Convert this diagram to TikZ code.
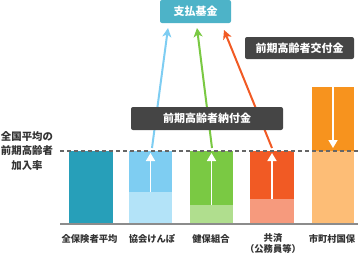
\documentclass[tikz,border=0pt]{standalone}
\usepackage{fontspec}
\newfontfamily\jp{Noto Sans CJK JP}
\usetikzlibrary{arrows.meta}
\definecolor{fundteal}{HTML}{4DB3C8}
\definecolor{darkbox}{HTML}{454545}
\definecolor{avgteal}{HTML}{279FB9}
\definecolor{blueU}{HTML}{7ECDF2}
\definecolor{blueL}{HTML}{B3E3F8}
\definecolor{greenU}{HTML}{7AC943}
\definecolor{greenL}{HTML}{B0DE8E}
\definecolor{redU}{HTML}{F15A24}
\definecolor{redL}{HTML}{F69A7D}
\definecolor{orangeU}{HTML}{F7931E}
\definecolor{orangeL}{HTML}{FDBD76}
\definecolor{txt}{HTML}{333333}
\begin{document}
\begin{tikzpicture}[x=1pt,y=-1pt,
  lbl/.style={font=\jp\bfseries\fontsize{11}{13}\selectfont, text=white, rounded corners=2pt, inner sep=0pt},
  barbox/.style={anchor=north west, inner sep=0pt, outer sep=0pt, draw=none},
  whitearrow/.style={draw=white, line width=1.6pt, -{Triangle[length=8pt,width=9pt]}},
  colarrow/.style={line width=2pt, -{Stealth[length=9pt,width=9pt,inset=2.5pt]}},
  barlabel/.style={font=\jp\bfseries\fontsize{9.3}{11.5}\selectfont, text=txt, align=center, inner sep=0pt}
]
\useasboundingbox (0,0) rectangle (361,258);

% bars
\node[barbox, fill=avgteal, minimum width=44pt, minimum height=72pt] (b1) at (69,151) {};
\node[barbox, fill=blueU, minimum width=43pt, minimum height=41pt] (b2u) at (129,151) {};
\node[barbox, fill=blueL, minimum width=43pt, minimum height=31pt] (b2l) at (129,192) {};
\node[barbox, fill=greenU, minimum width=43pt, minimum height=54pt] (b3u) at (190,151) {};
\node[barbox, fill=greenL, minimum width=43pt, minimum height=18pt] (b3l) at (190,205) {};
\node[barbox, fill=redU, minimum width=44pt, minimum height=48pt] (b4u) at (250,151) {};
\node[barbox, fill=redL, minimum width=44pt, minimum height=24pt] (b4l) at (250,199) {};
\node[barbox, fill=orangeU, minimum width=42pt, minimum height=64pt] (b5u) at (312,87) {};
\node[barbox, fill=orangeL, minimum width=42pt, minimum height=72pt] (b5l) at (312,151) {};

% white arrows in bars
\draw[whitearrow] (b2u.south) -- ([yshift=-2pt]b2u.north);
\draw[whitearrow] (b3u.south) -- ([yshift=-2pt]b3u.north);
\draw[whitearrow] (b4u.south) -- ([yshift=-2pt]b4u.north);
\draw[whitearrow] (b5u.north) -- ([yshift=3pt]b5u.south);

% dashed average line and baseline
\coordinate (dl) at (60,151);
\coordinate (dr) at (361,151);
\draw[draw=black!60, line width=1.2pt, dash pattern=on 4pt off 3pt] (dl) -- (dr);
\coordinate (bl) at (60,223.8);
\coordinate (br) at (358,223.8);
\draw[draw=black!45, line width=1.5pt] (bl) -- (br);

% top box
\node[lbl, fill=fundteal, minimum width=71pt, minimum height=23pt] (fund) at (195.5,11.5) {支払基金};

% coloured arrows
\coordinate (s2) at (152,148);
\coordinate (e2) at (168,28);
\coordinate (s3) at (212,148);
\coordinate (e3) at (197,28);
\coordinate (s4) at (272,148);
\coordinate (e4) at (224,30);
\draw[colarrow, draw=blueU] (s2) -- (e2);
\draw[colarrow, draw=greenU] (s3) -- (e3);
\draw[colarrow, draw=redU] (s4) -- (e4);

% dark boxes
\node[lbl, fill=darkbox, minimum width=109pt, minimum height=22pt] (koufu) at (299.5,48) {前期高齢者交付金};
\node[lbl, fill=darkbox, minimum width=152pt, minimum height=23pt] (noufu) at (207,118.5) {前期高齢者納付金};

% left label
\node[font=\jp\bfseries\fontsize{10.4}{14.5}\selectfont, text=txt, align=center, inner sep=0pt] (avg) at (27,151) {全国平均の\\前期高齢者\\加入率};

% bar labels
\node[barlabel] (l1) at (89.5,239) {全保険者平均};
\node[barlabel] (l2) at (152,239) {協会けんぽ};
\node[barlabel] (l3) at (211,239) {健保組合};
\node[barlabel, anchor=north] (l4) at (273,233) {共済\\（公務員等）};
\node[barlabel] (l5) at (332,239) {市町村国保};
\end{tikzpicture}
\end{document}
